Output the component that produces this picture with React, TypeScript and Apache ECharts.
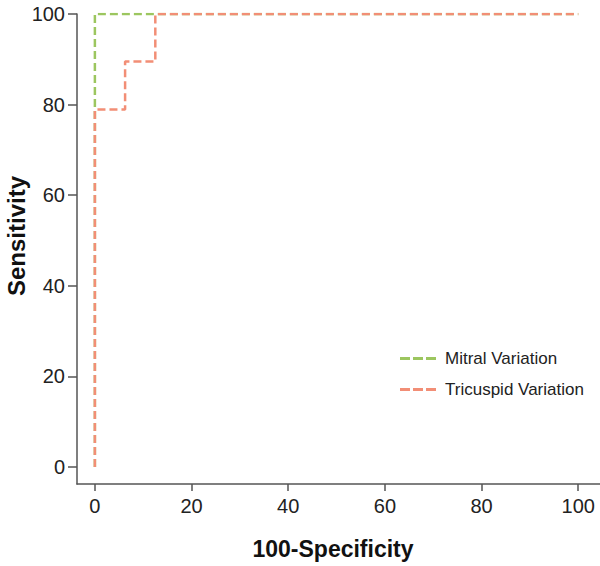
import React, { useEffect, useRef } from "react";
import * as echarts from "echarts";

const tickValues = [0, 20, 40, 60, 80, 100];
const mitralX = [0, 0, 100];
const mitralY = [0, 100, 100];
const tricuspidX = [0, 0, 6.25, 6.25, 12.5, 12.5, 100];
const tricuspidY = [0, 78.9, 78.9, 89.5, 89.5, 100, 100];
const seriesNames = ["Mitral Variation", "Tricuspid Variation"];
const seriesColors = ["#9cc65f", "#f28e76"];

const zip = (xs: number[], ys: number[]) => xs.map((x, i) => [x, ys[i]]);

export default function App() {
  const ref = useRef<HTMLDivElement>(null);
  useEffect(() => {
    document.body.style.margin = "0";
    const chart = echarts.init(ref.current!, null, { renderer: "svg" });
    const font = "'Liberation Sans', Arial, Helvetica, sans-serif";
    const axisLine = { show: true, onZero: false, lineStyle: { color: "#555", width: 1.5 } };
    const label = { color: "#222", fontSize: 20, fontFamily: font, customValues: tickValues };
    const dashIcon = "path://M0 0h10v3H0z M13 0h10v3H13z M26 0h10v3H26z";
    chart.setOption({
      animation: false,
      backgroundColor: "#fff",
      grid: { left: 77, right: 0, top: 14, bottom: 82, containLabel: false },
      xAxis: {
        type: "value",
        min: -3.7,
        max: 104.5,
        splitLine: { show: false },
        axisLine,
        axisTick: { show: true, length: 7, lineStyle: { color: "#555", width: 1.5 }, customValues: tickValues },
        axisLabel: { ...label, margin: 12 },
      },
      yAxis: {
        type: "value",
        min: -3.75,
        max: 100,
        splitLine: { show: false },
        axisLine,
        axisTick: { show: true, length: 9, lineStyle: { color: "#555", width: 1.5 }, customValues: tickValues },
        axisLabel: { ...label, margin: 12 },
      },
      legend: {
        orient: "vertical",
        left: 395,
        top: 345,
        itemWidth: 36,
        itemHeight: 3,
        itemGap: 14,
        textStyle: { fontSize: 17, color: "#222", fontFamily: font, padding: [0, 0, 0, 4] },
        data: seriesNames.map((name, i) => ({ name, icon: dashIcon, itemStyle: { color: seriesColors[i] } })),
      },
      graphic: [
        {
          type: "text",
          x: 333,
          y: 549,
          style: {
            text: "100-Specificity",
            font: `bold 23px ${font}`,
            fill: "#111",
            textAlign: "center",
            textVerticalAlign: "middle",
          },
        },
        {
          type: "text",
          x: 16,
          y: 236,
          rotation: Math.PI / 2,
          style: {
            text: "Sensitivity",
            font: `bold 24px ${font}`,
            fill: "#111",
            textAlign: "center",
            textVerticalAlign: "middle",
          },
        },
      ],
      series: [
        {
          name: seriesNames[0],
          type: "line",
          data: zip(mitralX, mitralY),
          symbol: "none",
          color: seriesColors[0],
          lineStyle: { color: seriesColors[0], width: 2.5, type: [8, 4] },
        },
        {
          name: seriesNames[1],
          type: "line",
          data: zip(tricuspidX, tricuspidY),
          symbol: "none",
          color: seriesColors[1],
          lineStyle: { color: seriesColors[1], width: 2.5, type: [8, 4] },
        },
      ],
    });
    return () => chart.dispose();
  }, []);
  return <div ref={ref} style={{ width: 600, height: 566 }} />;
}
